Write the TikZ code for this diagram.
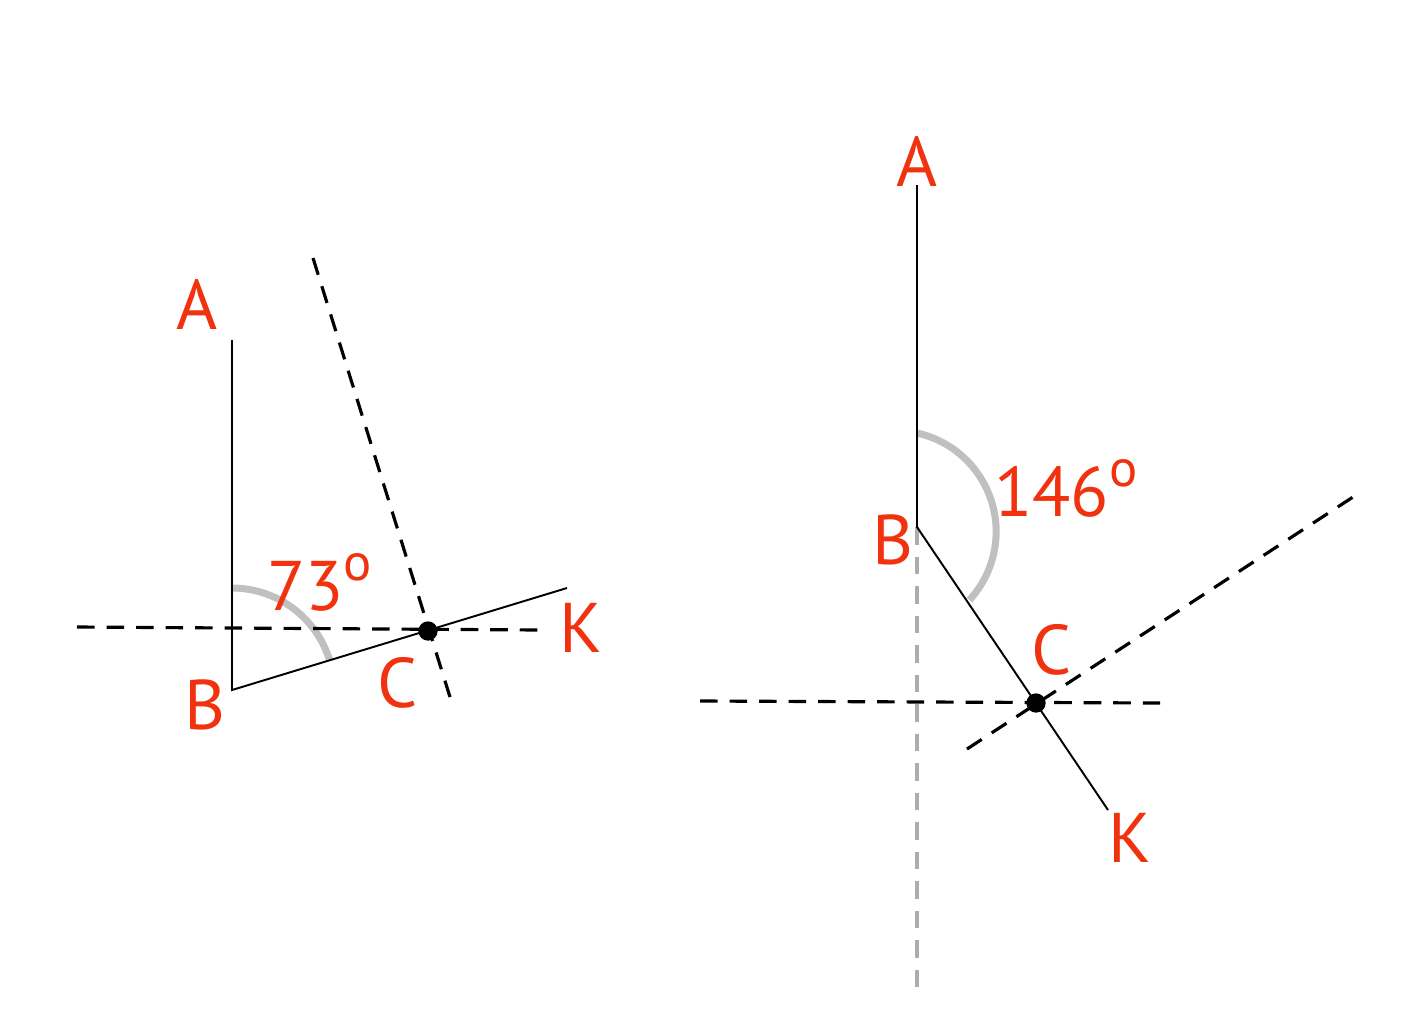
\documentclass[tikz,border=0pt]{standalone}
\usepackage{fontspec}
\setmainfont{PT Sans}
\usepackage{tikz}
\usetikzlibrary{positioning}
\definecolor{lbl}{RGB}{240,50,15}
\definecolor{arcgray}{RGB}{192,192,192}
\newcommand\degO{\raisebox{0.42em}{\fontsize{30}{32}\selectfont o}}
\tikzset{
	seg/.style = {line width=1.1pt, black},
	aux/.style = {line width=1.8pt, black, dash pattern=on 10pt off 6.8pt},
	auxgray/.style = {line width=1.8pt, arcgray!90!black, dash pattern=on 10pt off 6.8pt},
	anglemark/.style = {line width=4pt, arcgray},
	pt/.style = {circle, fill=black, inner sep=0pt, minimum size=11pt},
	lab/.style = {text=lbl, font=\fontsize{40}{44}\selectfont, inner sep=0pt}
}

\begin{document}
\begin{tikzpicture}[x=0.02cm, y=-0.02cm]
\useasboundingbox (0,0) rectangle (1413,1022);
%----------------------------------------------------------------------------
% Left figure: 73 degrees
\coordinate (lA) at (232,340);
\coordinate (lB) at (232,690);
\coordinate (lK) at (567,588);
\node (lC) [pt] at (428,631) {};
\coordinate (lHa) at (77,627);
\coordinate (lHb) at (540,630);
\coordinate (lPa) at (313,258);
\coordinate (lPb) at (450,697);

\draw [anglemark] (232,588) arc [start angle=-90, end angle=-16.9, radius=102];
\draw [aux] (lHa) -- (lHb);
\draw [aux] (lPa) -- (lPb);
\draw [seg] (lA) -- (lB) -- (lK);

\node (lAlab) [lab] at (197,305) {A};
\node (lBlab) [lab] at (205,705) {B};
\node (lClab) [lab] at (398,683) {C};
\node (lKlab) [lab] at (581,628) {К};
\node (lAng) [lab, anchor=base west] at (267,610) {73\degO};

%----------------------------------------------------------------------------
% Right figure: 146 degrees
\coordinate (rA) at (917,185);
\coordinate (rB) at (917,527);
\coordinate (rK) at (1108,810);
\node (rC) [pt] at (1036,703) {};
\coordinate (rHa) at (700,701);
\coordinate (rHb) at (1160,703);
\coordinate (rPa) at (967,749);
\coordinate (rPb) at (1353,497);
\coordinate (rV) at (917,990);

\draw [anglemark] (917,433) arc [start angle=-77.5, end angle=42.6, radius=101];
\draw [auxgray] (rB) -- (rV);
\draw [aux] (rHa) -- (rHb);
\draw [aux] (rPa) -- (rPb);
\draw [seg] (rA) -- (rB) -- (rK);

\node (rAlab) [lab] at (917,162) {A};
\node (rBlab) [lab] at (893,540) {B};
\node (rClab) [lab] at (1052,650) {C};
\node (rKlab) [lab] at (1130,838) {К};
\node (rAng) [lab, anchor=base west] at (994,516) {146\degO};
\end{tikzpicture}
\end{document}
